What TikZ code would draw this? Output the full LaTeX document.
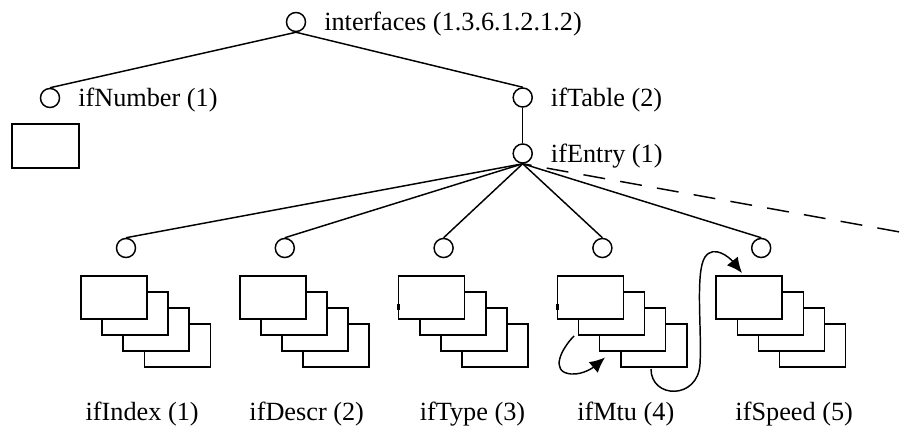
\documentclass[tikz,border=0pt]{standalone}
\usepackage{fontspec}
\setmainfont{Liberation Serif}
\usepackage{tikz}
\usetikzlibrary{arrows.meta,positioning}

\tikzset{
  oid/.style={circle,draw,line width=1.1pt,minimum size=14.3pt,inner sep=0pt},
  txt/.style={inner sep=0pt,font=\fontsize{19.7}{24}\selectfont},
  card/.style={draw,fill=white,line width=1.2pt},
  tick/.style={line width=1.8pt},
  link/.style={line width=1.1pt},
  more/.style={line width=1.1pt,dash pattern=on 16.5pt off 11.5pt,dash phase=9.7pt},
  jump/.style={line width=1.1pt,-{Latex[length=11.5pt,width=10.5pt]}}
}

\begin{document}
\begin{tikzpicture}[x=0.75pt,y=-0.75pt]
\useasboundingbox (0,0) rectangle (913,435);

% tree of object identifiers
\node[oid] (interfaces) at (296,22) {};
\node[oid] (ifnumber) at (50,98) {};
\node[oid] (iftable) at (522.7,97.5) {};
\node[oid] (ifentry) at (522.7,153.5) {};
\foreach \k in {1,...,5}
  \node[oid] (col\k) at ({126+158.8*(\k-1)},248) {};

\node[txt,anchor=base west] at (324,30.5) {interfaces (1.3.6.1.2.1.2)};
\node[txt,anchor=base west] at (78,106.5) {ifNumber (1)};
\node[txt,anchor=base west] at (550.7,106) {ifTable (2)};
\node[txt,anchor=base west] at (550.7,162) {ifEntry (1)};

\draw[link] (interfaces.south) -- (ifnumber.north);
\draw[link] (interfaces.south) -- (iftable.north);
\draw[link] (iftable.south) -- (ifentry.north);
\foreach \k in {1,...,5}
  \draw[link] (ifentry.south) -- (col\k.north);
\coordinate (further) at (913,234.4);
\draw[more] (ifentry.south) -- (further);

% scalar instance
\draw[card] (12,124) rectangle ++(67,44);
\draw[tick] (59,124) -- ++(6,0);
\draw[tick] (12,153) -- ++(0,6);

% column instances
\foreach \k in {0,...,4}{
  \foreach \j in {3,2,1,0}
    \draw[card] ({81+158.8*\k+21.1*\j},{276+15.9*\j}) rectangle ++(66,43);
  \draw[tick] ({81+158.8*\k+47},276) -- ++(6,0);
  \draw[tick] ({81+158.8*\k},304) -- ++(0,6);
}

\foreach \x/\lab in {142.2/ifIndex (1),306.7/ifDescr (2),472.5/ifType (3),625.8/ifMtu (4),794.2/ifSpeed (5)}
  \node[txt,anchor=base] at (\x,420) {\lab};

% lexicographic order
\draw[jump] (574,336) .. controls (562,348) and (549,372) .. (571,374)
  .. controls (584,375) and (595,366) .. (605,357.5);
\draw[jump] (651,369) .. controls (651,399) and (698,400) .. (700,364)
  .. controls (702,330) and (695,272) .. (705,257)
  .. controls (714,244) and (730,258) .. (742,273);
\end{tikzpicture}
\end{document}
